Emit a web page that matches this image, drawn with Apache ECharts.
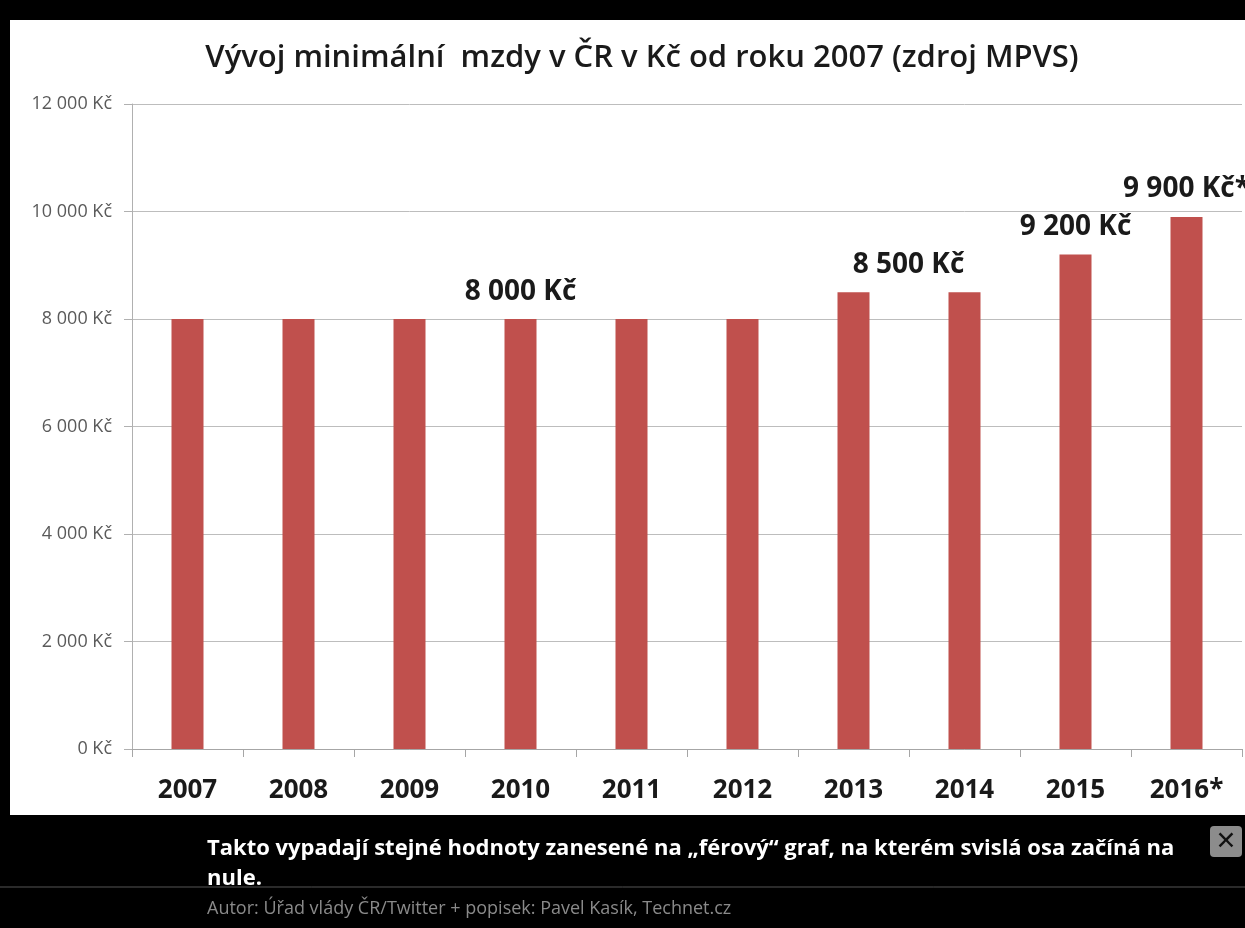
<!DOCTYPE html>
<html><head><meta charset="utf-8">
<script src="https://cdn.jsdelivr.net/npm/echarts@6/dist/echarts.min.js"></script>
<style>html,body{margin:0;padding:0;background:#000;}#c{width:1245px;height:928px;}</style>
</head><body><div id="c"></div>
<script>
const years = ['2007','2008','2009','2010','2011','2012','2013','2014','2015','2016*'];
const wages = [8000,8000,8000,8000,8000,8000,8500,8500,9200,9900];
const labelTexts = [null,null,null,'8 000 Kč',null,null,'8 500 Kč',null,'9 200 Kč','9 900 Kč*'];
const labelShiftX = [0,0,0,0,0,0,55,0,0,0];
const labelShiftY = [0,0,0,-8,0,0,-8,0,-8,-9];
const yTicks = {min:0, max:12000, step:2000};
const titleText = 'Vývoj minimální  mzdy v ČR v Kč od roku 2007 (zdroj MPVS)';
const captionLine1 = 'Takto vypadají stejné hodnoty zanesené na „férový“ graf, na kterém svislá osa začíná na';
const captionLine2 = 'nule.';
const authorText = 'Autor: Úřad vlády ČR/Twitter + popisek: Pavel Kasík, Technet.cz';

function fmt(v){ return String(v).replace(/\B(?=(\d{3})+(?!\d))/g,' ') + ' Kč'; }

const chart = echarts.init(document.getElementById('c'));
const barData = wages.map((v,i)=>{
  const d = {value:v};
  if(labelTexts[i]){
    d.label = {show:true, position:'top', formatter:labelTexts[i], offset:[labelShiftX[i],labelShiftY[i]],
      fontFamily:'Open Sans', fontWeight:'bold', fontSize:28, color:'#1a1a1a'};
  }
  return d;
});
chart.setOption({
  animation:false,
  backgroundColor:'#000',
  graphic:[
    {type:'rect', z:-10, shape:{x:10,y:20,width:1235,height:795}, style:{fill:'#fff'}},
    {type:'line', shape:{x1:0,y1:887,x2:1245,y2:887}, style:{stroke:'#555',lineWidth:1}},
    {type:'text', x:207, y:849, style:{text:captionLine1, fill:'#fff', font:'bold 22px "Open Sans", sans-serif', textVerticalAlign:'middle'}},
    {type:'text', x:207, y:879, style:{text:captionLine2, fill:'#fff', font:'bold 22px "Open Sans", sans-serif', textVerticalAlign:'middle'}},
    {type:'text', x:207, y:909, style:{text:authorText, fill:'#8a8a8a', font:'18px "Open Sans", sans-serif', textVerticalAlign:'middle'}},
    {type:'rect', shape:{x:1210,y:826,width:32,height:31,r:4}, style:{fill:'#8c8c8c'}},
    {type:'text', x:1226, y:842, style:{text:'✕', fill:'#111', font:'bold 25px "DejaVu Sans", sans-serif', textAlign:'center', textVerticalAlign:'middle'}}
  ],
  title:{text:titleText, left:637, textAlign:'center', top:38,
    textStyle:{fontFamily:'Open Sans', fontWeight:600, fontSize:31, color:'#1a1a1a'}},
  grid:{left:132, top:104, right:3, bottom:179, containLabel:false},
  xAxis:{type:'category', data:years,
    axisLine:{lineStyle:{color:'#a6a6a6', width:1}},
    axisTick:{show:true, length:8, lineStyle:{color:'#a6a6a6'}},
    axisLabel:{margin:29, fontFamily:'Open Sans', fontWeight:'bold', fontSize:26, color:'#1a1a1a'}},
  yAxis:{type:'value', min:yTicks.min, max:yTicks.max, interval:yTicks.step,
    axisLine:{show:true, lineStyle:{color:'#b0b0b0'}},
    axisTick:{show:true, length:8, lineStyle:{color:'#b0b0b0'}},
    splitLine:{lineStyle:{color:'#bdbdbd', width:1}},
    axisLabel:{formatter:fmt, margin:20, fontFamily:'Open Sans', fontSize:18, color:'#5a5a5a'}},
  series:[{type:'bar', data:barData, barWidth:32, itemStyle:{color:'#c0504d'}}]
});
</script></body></html>
